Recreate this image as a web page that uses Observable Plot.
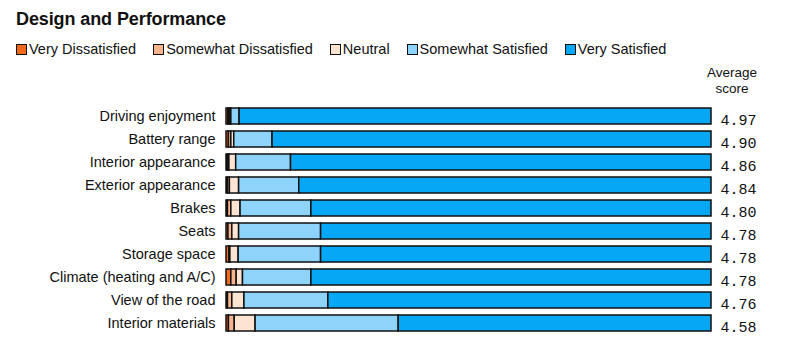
<!DOCTYPE html>
<html>
<head>
<meta charset="utf-8">
<script src="https://cdn.jsdelivr.net/npm/d3@7"></script>
<script src="https://cdn.jsdelivr.net/npm/@observablehq/plot@0.6"></script>
<style>
  body { margin: 0; background: #fff; font-family: "Liberation Sans", Arial, sans-serif; color: #111; }
  #wrap { position: relative; width: 791px; height: 362px; overflow: hidden; }
  #title { position: absolute; left: 16px; top: 9px; font-size: 18px; font-weight: bold; letter-spacing: -0.1px; }
  #legend { position: absolute; left: 16px; top: 41px; display: flex; font-size: 14.5px; }
  .item { display: flex; align-items: center; margin-right: 17px; }
  .sw { width: 9px; height: 9px; border: 1px solid #111; margin-right: 2px; }
  #avg { position: absolute; left: 700px; top: 65px; width: 64px; text-align: center; font-size: 13.5px; line-height: 15.5px; }
  #chart { position: absolute; left: 0; top: 64px; }
</style>
</head>
<body>
<div id="wrap">
  <div id="title">Design and Performance</div>
  <div id="legend"></div>
  <div id="avg">Average<br>score</div>
  <div id="chart"></div>
</div>
<script>
const categories = ["Driving enjoyment","Battery range","Interior appearance","Exterior appearance","Brakes","Seats","Storage space","Climate (heating and A/C)","View of the road","Interior materials"];
const seriesNames = ["Very Dissatisfied","Somewhat Dissatisfied","Neutral","Somewhat Satisfied","Very Satisfied"];
const seriesColors = ["#f26b1d","#f7b48d","#fde3d2","#8ed4fa","#06a7f5"];
const veryDissatisfied    = [0.4, 0.5, 0.3, 0.3, 0.3, 0.4, 0.6, 1.0, 0.3, 0.5];
const somewhatDissatisfied= [0.3, 0.5, 0.3, 0.4, 0.7, 0.8, 0.2, 1.1, 0.9, 1.2];
const neutral             = [0.3, 0.6, 1.4, 1.9, 1.9, 1.4, 1.7, 1.3, 2.5, 4.3];
const somewhatSatisfied   = [1.7, 7.9, 11.3, 12.4, 14.6, 16.9, 17.0, 14.1, 17.3, 29.5];
const verySatisfied       = [97.3, 90.5, 86.7, 85.0, 82.5, 80.5, 80.5, 82.5, 79.0, 64.5];
const scores = ["4.97","4.90","4.86","4.84","4.80","4.78","4.78","4.78","4.76","4.58"];

const seriesValues = [veryDissatisfied, somewhatDissatisfied, neutral, somewhatSatisfied, verySatisfied];
const rows = [];
categories.forEach((c, i) => seriesNames.forEach((s, j) => rows.push({category: c, series: s, value: seriesValues[j][i]})));
const scoreRows = categories.map((c, i) => ({category: c, score: scores[i]}));

// legend
const legend = document.getElementById("legend");
seriesNames.forEach((s, j) => {
  const it = document.createElement("div"); it.className = "item";
  const sw = document.createElement("div"); sw.className = "sw"; sw.style.background = seriesColors[j];
  const t = document.createElement("span"); t.textContent = s;
  it.appendChild(sw); it.appendChild(t); legend.appendChild(it);
});

const chart = Plot.plot({
  width: 791,
  height: 298,
  marginLeft: 226,
  marginRight: 80,
  marginTop: 40.5,
  marginBottom: 27.5,
  style: {fontFamily: "Liberation Sans, Arial, sans-serif", fontSize: "14.5px", color: "#111", background: "transparent"},
  x: {domain: [0, 100], axis: null},
  y: {domain: categories, paddingInner: 0.3, paddingOuter: 0.15, label: null, tickSize: 0, tickPadding: 11},
  color: {domain: seriesNames, range: seriesColors},
  marks: [
    Plot.barX(rows, Plot.stackX({x: "value", y: "category", fill: "series", order: seriesNames, stroke: "#111", strokeWidth: 1.5})),
    Plot.text(scoreRows, {x: () => 100, y: "category", text: "score", dx: 9, dy: 4, textAnchor: "start", fontFamily: "Liberation Mono, monospace", fontSize: 15, fill: "#111"})
  ]
});
document.getElementById("chart").appendChild(chart);
</script>
</body>
</html>
